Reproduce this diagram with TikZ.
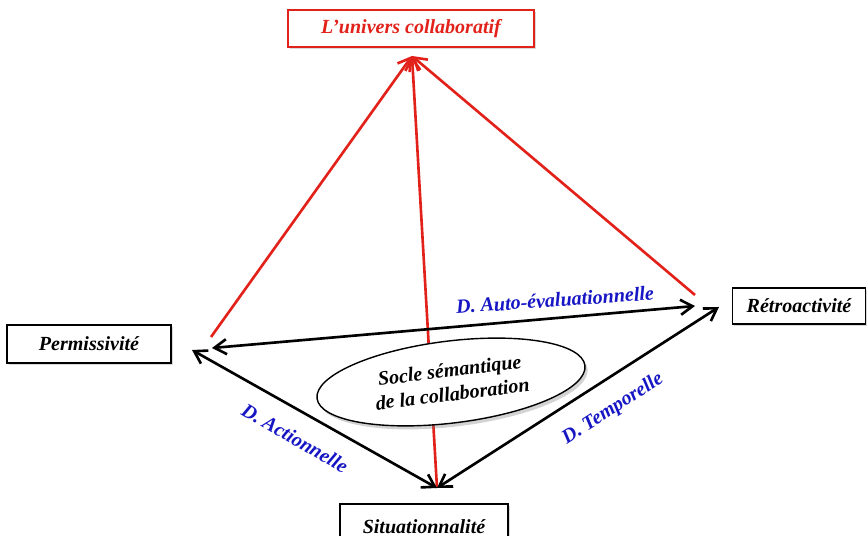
\documentclass[tikz,border=0pt]{standalone}
\usepackage{fontspec}
\setmainfont{Liberation Serif}
\usetikzlibrary{arrows.meta,shapes.geometric,shadows}
\definecolor{univred}{RGB}{226,34,26}
\definecolor{dimblue}{RGB}{22,22,196}

\begin{document}
\begin{tikzpicture}[x=0.02cm,y=-0.02cm,
        every node/.style={font=\fontsize{11.4}{13.7}\selectfont\bfseries\itshape},
        pole/.style={draw,line width=0.9pt,fill=white,inner sep=0pt,
            drop shadow={shadow xshift=1pt,shadow yshift=-1pt,opacity=.3}},
        dim/.style={text=dimblue},
        dblarrow/.style={line width=1.5pt,{Straight Barb[length=2.4mm,width=3mm]}-{Straight Barb[length=2.4mm,width=3mm]}},
        redarrow/.style={univred,line width=1.5pt,-{Straight Barb[length=2.4mm,width=3mm]}}]
        \useasboundingbox (0,0) rectangle (867,536);
        \clip (0,0) rectangle (867,536);

        % les poles
        \node[pole,draw=univred,text=univred,minimum width=4.92cm,minimum height=0.74cm] (univ) at (411,28.5) {L’univers collaboratif};
        \node[pole,minimum width=3.28cm,minimum height=0.76cm] (perm) at (89,344) {Permissivité};
        \node[pole,minimum width=2.66cm,minimum height=0.72cm] (retro) at (799,306) {Rétroactivité};
        \node[pole,minimum width=3.36cm,minimum height=0.9cm] (situ) at (424,526.5) {Situationnalité};

        \coordinate (apex) at (412,56);
        \coordinate (permR) at (211,337);
        \coordinate (permA) at (212,348);
        \coordinate (permB) at (192,350);
        \coordinate (situA) at (437,488);
        \coordinate (retroR) at (695,295);
        \coordinate (retroA) at (695,306);
        \coordinate (retroB) at (719,307);

        \foreach \c in {permR,situA,retroR}{
            \draw[redarrow] (\c)--(apex);
        }

        \node[ellipse,draw,thick,fill=white,rotate=7,align=center,minimum width=5.4cm,minimum height=1.64cm,
            drop shadow={shadow xshift=1.5pt,shadow yshift=-2pt,opacity=.35}] (socle) at (451,382) {Socle sémantique\\de la collaboration};

        \draw[dblarrow] (permA)--(retroA);
        \draw[dblarrow] (permB)--(situA);
        \draw[dblarrow] (situA)--(retroB);

        \node[dim,rotate=4] (lauto) at (555,300) {D. Auto-évaluationnelle};
        \node[dim,rotate=-30] (lact) at (295,438) {D. Actionnelle};
        \node[dim,rotate=33] (ltemp) at (613,409) {D. Temporelle};
    \end{tikzpicture}
\end{document}
